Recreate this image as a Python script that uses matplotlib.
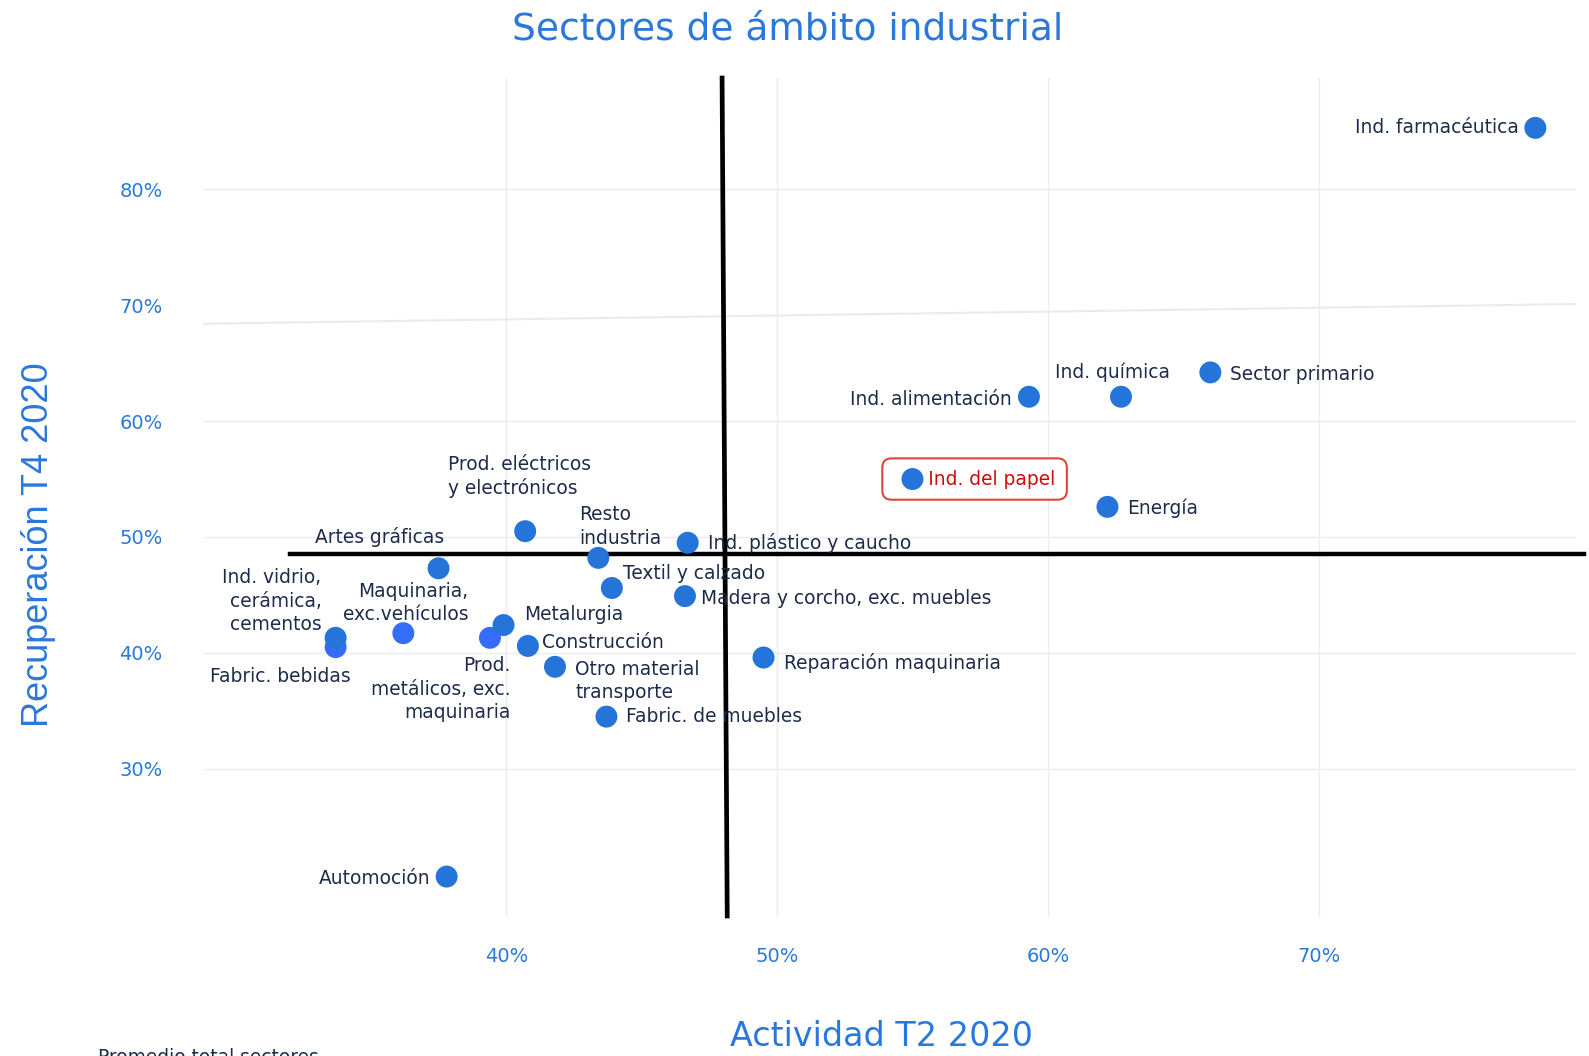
"""
Sectores de ámbito industrial: actividad T2 2020 frente a recuperación T4 2020.
"""
import matplotlib
matplotlib.use("Agg")
import matplotlib.pyplot as plt

# Datos (en %)
sectores = [
    "Ind. farmacéutica", "Sector primario", "Ind. química", "Ind. alimentación",
    "Ind. del papel", "Energía", "Ind. plástico y caucho",
    "Madera y corcho, exc. muebles", "Reparación maquinaria", "Textil y calzado",
    "Resto\nindustria", "Prod. eléctricos\ny electrónicos", "Artes gráficas",
    "Ind. vidrio,\ncerámica,\ncementos", "Fabric. bebidas",
    "Maquinaria,\nexc.vehículos", "Metalurgia", "Construcción",
    "Prod.\nmetálicos, exc.\nmaquinaria", "Otro material\ntransporte",
    "Fabric. de muebles", "Automoción",
]
actividad = [78.0, 66.0, 62.7, 59.3, 55.0, 62.2, 46.7, 46.6, 49.5, 43.9,
             43.4, 40.7, 37.5, 33.7, 33.7, 36.2, 39.9, 40.8, 39.4, 41.8,
             43.7, 37.8]
recuperacion = [85.3, 64.2, 62.1, 62.1, 55.0, 52.6, 49.5, 44.9, 39.6, 45.6,
                48.2, 50.5, 47.3, 41.3, 40.5, 41.7, 42.4, 40.6, 41.3, 38.8,
                34.5, 20.7]
grupo = [0, 0, 0, 0, 0, 0, 0, 0, 0, 0, 0, 0, 0, 0, 1, 1, 0, 0, 1, 0, 0, 0]

# Promedio total sectores
prom_actividad = [47.97, 48.16]   # arriba / abajo
prom_recuperacion = 48.5
prom_x_rango = [32.0, 79.8]
linea_70 = [68.4, 70.1]           # línea de cuadrícula inclinada

xticks = [40, 50, 60, 70]
yticks = [30, 40, 50, 60, 70, 80]

# Posición de las etiquetas (desplazamiento en píxeles, alineación)
etiquetas_pos = [
    (-16, 0, "right"), (19, -2, "left"), (-8, 24, "center"), (-17, -3, "right"),
    (0, 0, "left"), (19, -1, "left"), (20, 0, "left"), (16, -2, "left"),
    (20, -5, "left"), (11, 14, "left"), (-19, 31, "left"), (-76, 54, "left"),
    (-58, 31, "center"), (-14, 36, "right"), (-55, -29, "center"),
    (64, 30, "right"), (20, 10, "left"), (14, 3, "left"), (20, -51, "right"),
    (20, -14, "left"), (19, 0, "left"), (-16, -2, "right"),
]

AZUL = "#2a78dc"
PUNTO = ["#2574d9", "#356cf8"]
TEXTO = "#1c2b4a"
GRID = "#ebebeb"
FS = 13.4

fig = plt.figure(figsize=(15.89, 10.56), dpi=100)
ax = fig.add_axes([0.1277, 0.1326, 0.8641, 0.7935])

xmin, xmax = 28.8, 79.5
ymin, ymax = 17.3, 89.6
ax.set_xlim(xmin, xmax)
ax.set_ylim(ymin, ymax)

# cuadrícula
for xt in xticks:
    ax.axvline(xt, color=GRID, lw=1, zorder=0)
for yt in yticks:
    if yt != 70:
        ax.axhline(yt, color=GRID, lw=1, zorder=0)
ax.plot([xmin, xmax], linea_70, color=GRID, lw=1.5, zorder=0)

# líneas de promedio
ax.plot(prom_actividad, [1, 0], color="black", lw=3.4,
        transform=ax.get_xaxis_transform(), clip_on=False, zorder=1)
ax.plot(prom_x_rango, [prom_recuperacion] * 2, color="black", lw=3.2,
        clip_on=False, zorder=1)

# puntos
for g in [1, 0]:
    xs = [a for a, k in zip(actividad, grupo) if k == g]
    ys = [r for r, k in zip(recuperacion, grupo) if k == g]
    ax.scatter(xs, ys, s=250, color=PUNTO[g], edgecolors="none", zorder=3)

# etiquetas
for nombre, x, y, (dx, dy, ha) in zip(sectores, actividad, recuperacion, etiquetas_pos):
    if nombre == "Ind. del papel":
        ax.annotate("      " + nombre, (x, y), xytext=(-19, 0),
                    textcoords="offset pixels", ha="left", va="center",
                    fontsize=FS, color="#cc0a0a", zorder=2,
                    bbox=dict(boxstyle="round,pad=0.6,rounding_size=0.5",
                              fc="white", ec="#e0453a", lw=1.5))
        continue
    ax.annotate(nombre, (x, y), xytext=(dx * 1.013, dy * 1.013),
                textcoords="offset pixels", ha=ha, va="center",
                multialignment=ha, linespacing=1.3,
                fontsize=FS, color=TEXTO, zorder=4)

for s in ax.spines.values():
    s.set_visible(False)
ax.set_xticks(xticks)
ax.set_yticks(yticks)
ax.set_xticklabels([f"{v}%" for v in xticks])
ax.set_yticklabels([f"{v}%" for v in yticks])
ax.tick_params(length=0, labelsize=14, labelcolor=AZUL)
ax.tick_params(axis="y", pad=29)
ax.tick_params(axis="x", pad=22)

fig.text(0.4955, 0.972, "Sectores de ámbito industrial", ha="center",
         va="center", fontsize=27, color=AZUL)
fig.text(0.555, 0.009, "Actividad T2 2020", ha="center", va="baseline",
         fontsize=24, color=AZUL)
fig.text(0.0245, 0.484, "Recuperación T4 2020", ha="center", va="center",
         rotation=90, fontsize=26, color=AZUL, family="Liberation Sans")
fig.text(0.0617, 0.0076, "Promedio total sectores", ha="left", va="top",
         fontsize=FS, color=TEXTO)

fig.savefig("out.png", dpi=100, facecolor="white")
